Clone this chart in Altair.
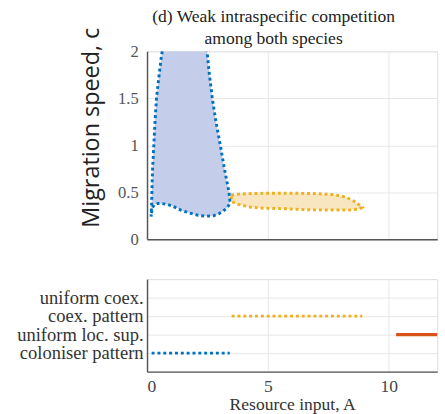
import altair as alt
import pandas as pd

# ---- data ----
# Top panel: blue region outline (open path: left edge down, bottom edge, right edge up)
blue_x = [0.63, 0.60, 0.50, 0.39, 0.33, 0.28, 0.23, 0.20, 0.19, 0.17, 0.21, 0.30, 0.45, 0.60, 0.85, 1.07,
          1.40, 1.74, 2.10, 2.41, 2.75, 2.96, 3.15, 3.29, 3.38, 3.43, 3.39, 3.20, 3.03, 2.85, 2.70, 2.58, 2.48]
blue_y = [2.00, 1.96, 1.75, 1.50, 1.25, 1.00, 0.75, 0.50, 0.38, 0.24, 0.33, 0.37, 0.38, 0.38, 0.37, 0.35,
          0.31, 0.28, 0.255, 0.245, 0.25, 0.27, 0.30, 0.33, 0.36, 0.40, 0.50, 0.75, 1.00, 1.25, 1.50, 1.75, 2.00]

# Top panel: orange region outline (closed loop)
orange_x = [3.48, 3.80, 4.20, 5.00, 6.00, 7.00, 7.70, 8.20, 8.60, 8.90, 8.75, 8.35, 7.50, 6.50, 5.65,
            4.80, 4.30, 3.77, 3.50, 3.48]
orange_y = [0.47, 0.48, 0.485, 0.49, 0.49, 0.485, 0.475, 0.45, 0.40, 0.34, 0.32, 0.31, 0.31, 0.315, 0.325,
            0.33, 0.34, 0.37, 0.40, 0.47]

# Bottom panel: regime bands (listed top to bottom)
regime_names = ["uniform coex.", "coex. pattern", "uniform loc. sup.", "coloniser pattern"]
colon_x = [0.19, 3.42]
coex_x = [3.50, 8.90]
unif_loc_x = [10.30, 12.0]

BLUE = "#0072BD"
ORANGE = "#EDB120"
RED = "#D95319"
BLUE_FILL = "#c4cde9"
ORANGE_FILL = "#f8e6c0"
SERIF = "Liberation Serif"

blue_df = pd.DataFrame({"A": blue_x, "c": blue_y, "o": range(len(blue_x))})
orange_df = pd.DataFrame({"A": orange_x, "c": orange_y, "o": range(len(orange_x))})

xs = alt.Scale(domain=[0, 12], nice=False)

top_x = alt.X("A:Q", scale=xs, axis=alt.Axis(values=[0, 5, 10], labels=False, ticks=False, title=None,
                                               grid=True, gridColor="#e6e6e6", domainColor="#555",
                                               domainWidth=1.5))
top_y = alt.Y("c:Q", scale=alt.Scale(domain=[0, 2], nice=False),
              axis=alt.Axis(values=[0, 0.5, 1, 1.5, 2], format="~g", title="Migration speed, c", ticks=False,
                            labelFont=SERIF, labelFontSize=17, labelColor="#555", labelPadding=9,
                            labelOverlap=False,
                            gridColor="#e6e6e6", domainColor="#555", domainWidth=1.5,
                            titleFont="Open Sans", titleFontSize=24, titleFontWeight="normal",
                            titleColor="#222", titleAngle=-90, titleAlign="center",
                            titleBaseline="middle", titleX=-57, titleY=78))

orange_layer = alt.Chart(orange_df).mark_line(
    fill=ORANGE_FILL, stroke=ORANGE, strokeWidth=3, strokeDash=[3, 3], clip=True
).encode(x=top_x, y=top_y, order="o:Q")

blue_layer = alt.Chart(blue_df).mark_line(
    fill=BLUE_FILL, stroke=BLUE, strokeWidth=3, strokeDash=[3, 3], clip=True
).encode(x=alt.X("A:Q", scale=xs), y=alt.Y("c:Q"), order="o:Q")

top = alt.layer(orange_layer, blue_layer).properties(
    width=298, height=193,
    title=alt.TitleParams(["(d) Weak intraspecific competition", "among both species"],
                          font=SERIF, fontSize=18, fontWeight="normal", color="#222",
                          anchor="middle", frame="group", dx=-19, lineHeight=22, offset=-21)
)

seg_df = pd.DataFrame({
    "A": colon_x + coex_x + unif_loc_x,
    "regime": [regime_names[3]] * 2 + [regime_names[1]] * 2 + [regime_names[2]] * 2,
    "seg": ["colon"] * 2 + ["coex"] * 2 + ["unif"] * 2,
})

bot_x = alt.X("A:Q", scale=xs, axis=alt.Axis(values=[0, 5, 10], title="Resource input, A", ticks=False,
                                               labelFont=SERIF, labelFontSize=18, labelColor="#444",
                                               labelPadding=6, gridColor="#e6e6e6", domainColor="#555",
                                               domainWidth=1.5, titleFont=SERIF, titleFontSize=18,
                                               titleFontWeight="normal", titleColor="#333",
                                               titlePadding=1))
bot_y = alt.Y("regime:N", sort=regime_names,
              scale=alt.Scale(type="point", domain=regime_names, padding=1),
              axis=alt.Axis(title=None, ticks=False, grid=True,
                            labelFont=SERIF, labelFontSize=19, labelColor="#333", labelPadding=4,
                            labelOverlap=False,
                            gridColor="#e6e6e6", domainColor="#555", domainWidth=1.5))

dotted = alt.Chart(seg_df[seg_df.seg != "unif"]).mark_line(strokeWidth=3, strokeDash=[3, 3]).encode(
    x=bot_x, y=bot_y, detail="seg:N",
    color=alt.Color("seg:N", scale=alt.Scale(domain=["colon", "coex"], range=[BLUE, ORANGE]), legend=None)
)
solid = alt.Chart(seg_df[seg_df.seg == "unif"]).mark_line(strokeWidth=3.5, color=RED).encode(
    x=alt.X("A:Q", scale=xs), y=alt.Y("regime:N")
)
bottom = alt.layer(dotted, solid).properties(width=298, height=95)

chart = alt.vconcat(top, bottom, spacing=31).properties(
    padding={"left": 16, "top": 2, "right": 0, "bottom": 0},
).configure_view(stroke=None).configure(background="white")

chart.save("out.html", embed_options={"renderer": "svg", "actions": False})
